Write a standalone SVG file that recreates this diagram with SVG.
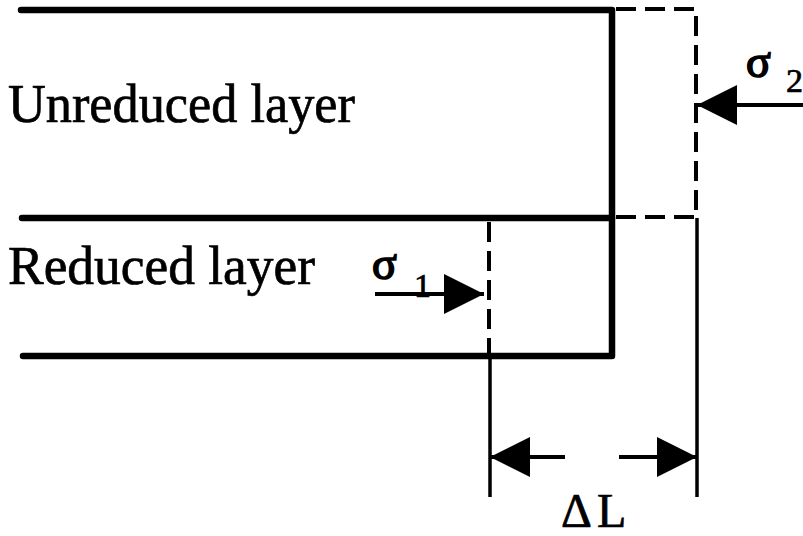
<svg xmlns="http://www.w3.org/2000/svg" width="803" height="536" viewBox="0 0 803 536">
  <style>
    .thick { fill: none; stroke: #000; stroke-width: 6.5; stroke-linecap: round; stroke-linejoin: round; }
    .dash { fill: none; stroke: #000; stroke-width: 4; stroke-dasharray: 20 9; }
    .thin { fill: none; stroke: #000; stroke-width: 3.5; }
    .shaft { fill: none; stroke: #000; stroke-width: 4; }
    .label { font-family: "Liberation Serif", "Times New Roman", serif; fill: #000; stroke: #000; stroke-width: 0.7; }
    .sigma { font-family: "Liberation Serif", "Times New Roman", serif; fill: #000; stroke: #000; stroke-width: 1.6; }
  </style>
  <defs>
    <marker id="head" markerUnits="userSpaceOnUse" markerWidth="40" markerHeight="40" refX="40" refY="20" orient="auto">
      <path d="M0,0 L40,20 L0,40 Z" fill="#000"/>
    </marker>
  </defs>

  <g id="body">
    <path class="thick" d="M21,10 H612 V356 H23"/>
    <path class="thick" d="M22,218 H612"/>
  </g>

  <g id="extension">
    <path class="dash" d="M616,9 H696 V217"/>
    <path class="dash" d="M616,217 H696"/>
    <path class="dash" d="M489,222 V356"/>
    <path class="thin" d="M697,218 V497"/>
    <path class="thin" d="M490,356 V497"/>
  </g>

  <g id="unreduced-layer">
    <text class="label" x="8" y="122" font-size="54" textLength="347" lengthAdjust="spacingAndGlyphs">Unreduced layer</text>
  </g>
  <g id="reduced-layer">
    <text class="label" x="8" y="284" font-size="54" textLength="307" lengthAdjust="spacingAndGlyphs">Reduced layer</text>
  </g>

  <g id="connectors">
    <line class="shaft" x1="803" y1="105" x2="697" y2="105" marker-end="url(#head)"/>
    <line class="shaft" x1="375" y1="294" x2="484" y2="294" marker-end="url(#head)"/>
    <line class="shaft" x1="565" y1="457" x2="490" y2="457" marker-end="url(#head)"/>
    <line class="shaft" x1="619" y1="457" x2="697" y2="457" marker-end="url(#head)"/>
  </g>

  <g id="sigma2">
    <text class="sigma" x="746" y="77" font-size="46">σ</text>
    <text class="label" x="786" y="92" font-size="34">2</text>
  </g>
  <g id="sigma1">
    <text class="sigma" x="372" y="279" font-size="46">σ</text>
    <text class="label" x="414" y="297" font-size="34">1</text>
  </g>
  <g id="delta-l">
    <text class="label" x="561" y="527" font-size="48">Δ<tspan dx="5">L</tspan></text>
  </g>
</svg>
